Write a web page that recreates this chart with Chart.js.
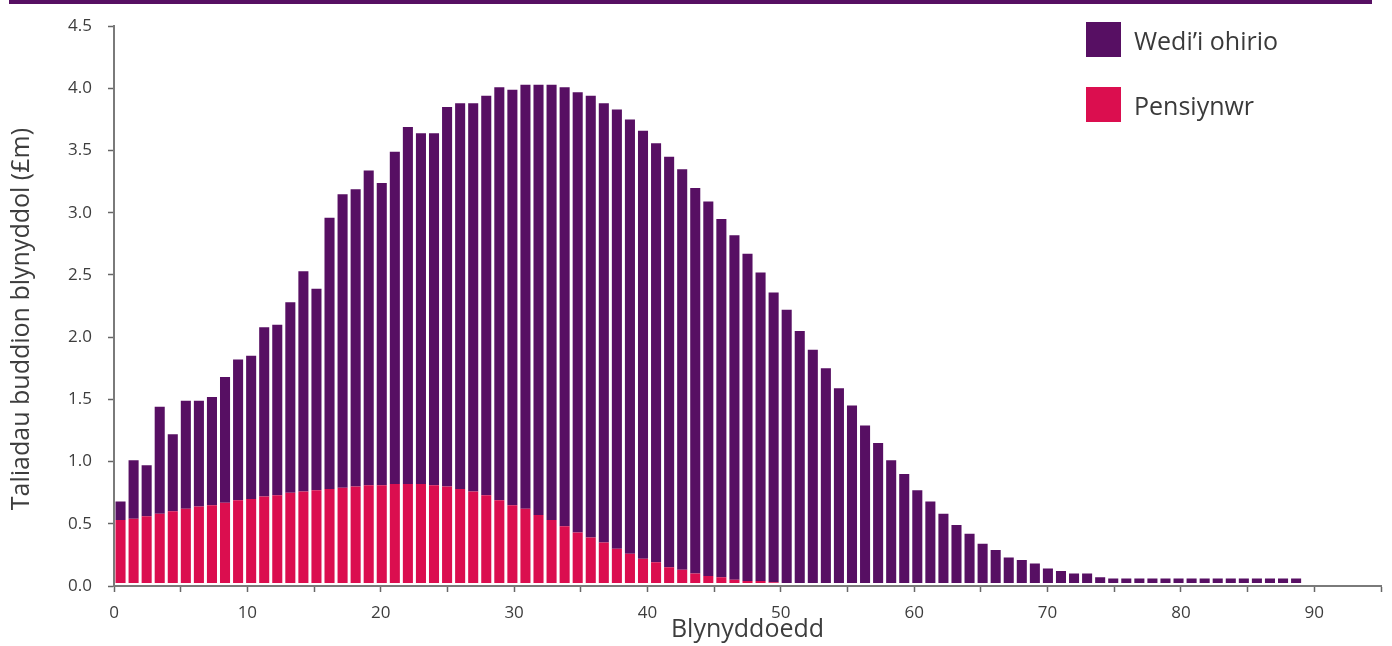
<!DOCTYPE html>
<html lang="cy">
<head>
<meta charset="utf-8">
<title>Taliadau buddion blynyddol</title>
<script src="https://cdn.jsdelivr.net/npm/chart.js@4/dist/chart.umd.min.js"></script>
<style>
    html, body { margin: 0; padding: 0; background: #fff; }
    #wrap { position: relative; width: 1392px; height: 646px; overflow: hidden; }
    #topBand { position: absolute; left: 9px; top: 0; width: 1363px; height: 4px; background: #570F63; }
    .legend-item { position: absolute; left: 1086px; height: 35px; display: flex; align-items: center; }
    .legend-item .swatch { width: 35px; height: 35px; margin-right: 13px; }
    .legend-item span { font-family: "Open Sans", sans-serif; font-size: 25px; color: #3a3a3a; white-space: nowrap; }
</style>
</head>
<body>
<div id="wrap">
    <canvas id="benefitsChart" width="1392" height="646"></canvas>
    <div id="topBand"></div>
    <div class="legend-item" style="top: 22px;"><div class="swatch" style="background:#570F63"></div><span>Wedi’i ohirio</span></div>
    <div class="legend-item" style="top: 87px;"><div class="swatch" style="background:#DB0E4F"></div><span>Pensiynwr</span></div>
</div>
<script>
const PURPLE = '#570F63';
const PINK = '#DB0E4F';

// bar slots along the year axis (only the first 91 carry values)
const years = [0, 1, 2, 3, 4, 5, 6, 7, 8, 9, 10, 11, 12, 13, 14, 15, 16, 17, 18, 19,
    20, 21, 22, 23, 24, 25, 26, 27, 28, 29, 30, 31, 32, 33, 34, 35, 36, 37, 38, 39,
    40, 41, 42, 43, 44, 45, 46, 47, 48, 49, 50, 51, 52, 53, 54, 55, 56, 57, 58, 59,
    60, 61, 62, 63, 64, 65, 66, 67, 68, 69, 70, 71, 72, 73, 74, 75, 76, 77, 78, 79,
    80, 81, 82, 83, 84, 85, 86, 87, 88, 89, 90, 91, 92, 93, 94, 95, 96];

// Pensiynwr (£m)
const pensionerValues = [
    0.53, 0.54, 0.56, 0.58, 0.60, 0.62, 0.64, 0.65, 0.67, 0.69,
    0.70, 0.72, 0.73, 0.75, 0.76, 0.77, 0.78, 0.79, 0.80, 0.81,
    0.81, 0.82, 0.82, 0.82, 0.81, 0.80, 0.78, 0.76, 0.73, 0.69,
    0.65, 0.62, 0.57, 0.53, 0.48, 0.43, 0.39, 0.35, 0.30, 0.26,
    0.22, 0.19, 0.15, 0.13, 0.10, 0.08, 0.07, 0.05, 0.04, 0.04,
    0.03, 0.02, 0, 0, 0, 0, 0, 0, 0, 0,
    0, 0, 0, 0, 0, 0, 0, 0, 0, 0,
    0, 0, 0, 0, 0, 0, 0, 0, 0, 0,
    0, 0, 0, 0, 0, 0, 0, 0, 0, 0,
    0
];

// Wedi'i ohirio (£m)
const deferredValues = [
    0.15, 0.47, 0.41, 0.86, 0.62, 0.87, 0.85, 0.87, 1.01, 1.13,
    1.15, 1.36, 1.37, 1.53, 1.77, 1.62, 2.18, 2.36, 2.39, 2.53,
    2.43, 2.67, 2.87, 2.82, 2.83, 3.05, 3.10, 3.12, 3.21, 3.32,
    3.34, 3.41, 3.46, 3.50, 3.53, 3.54, 3.55, 3.53, 3.53, 3.49,
    3.44, 3.37, 3.30, 3.22, 3.10, 3.01, 2.88, 2.77, 2.63, 2.48,
    2.33, 2.20, 2.05, 1.90, 1.75, 1.59, 1.45, 1.29, 1.15, 1.01,
    0.90, 0.77, 0.68, 0.58, 0.49, 0.42, 0.34, 0.29, 0.23, 0.21,
    0.18, 0.14, 0.12, 0.10, 0.10, 0.07, 0.06, 0.06, 0.06, 0.06,
    0.06, 0.06, 0.06, 0.06, 0.06, 0.06, 0.06, 0.06, 0.06, 0.06,
    0.06
];

const xMin = 0, xMax = 95, xStep = 5, xLabelEvery = 10;
const yMin = 0, yMax = 4.5, yStep = 0.5;

const TEXT = '#3d3d3d';
const AXIS = '#7a7a7a';

// leave a thin white gap between the bars and the x axis line
const barClip = { left: 0, top: 0, right: 0, bottom: -3 };

const ctx = document.getElementById('benefitsChart').getContext('2d');
new Chart(ctx, {
    type: 'bar',
    data: {
        labels: years,
        datasets: [{
            label: 'Pensiynwr',
            data: pensionerValues,
            backgroundColor: PINK,
            xAxisID: 'cat',
            yAxisID: 'y',
            clip: barClip
        }, {
            label: 'Wedi’i ohirio',
            data: deferredValues,
            backgroundColor: PURPLE,
            xAxisID: 'cat',
            yAxisID: 'y',
            clip: barClip
        }]
    },
    options: {
        responsive: false,
        devicePixelRatio: 1,
        animation: false,
        categoryPercentage: 1,
        barPercentage: 0.77,
        layout: { padding: { top: 23, right: 11, left: 0, bottom: 0 } },
        plugins: {
            legend: { display: false },
            tooltip: { enabled: false }
        },
        scales: {
            cat: {
                type: 'category',
                axis: 'x',
                position: 'bottom',
                labels: years,
                offset: true,
                stacked: true,
                display: false
            },
            x: {
                type: 'linear',
                position: 'bottom',
                min: xMin,
                max: xMax,
                offset: false,
                afterFit: function(scale) { scale.height = 60; },
                border: { display: true, color: AXIS, width: 2 },
                grid: { offset: false, drawOnChartArea: false, drawTicks: true, tickLength: 6, tickColor: '#666', tickWidth: 1.5 },
                ticks: {
                    stepSize: xStep,
                    autoSkip: false,
                    maxRotation: 0,
                    padding: 11,
                    color: TEXT,
                    font: { family: 'Open Sans', size: 17 },
                    callback: function(value) {
                        return value % xLabelEvery === 0 ? String(value) : '';
                    }
                },
                title: {
                    display: true,
                    text: 'Blynyddoedd',
                    color: TEXT,
                    font: { family: 'Open Sans', size: 25 },
                    padding: { top: 0, bottom: 1 }
                }
            },
            y: {
                stacked: true,
                min: yMin,
                max: yMax,
                afterFit: function(scale) { scale.width = 114; },
                border: { display: true, color: AXIS, width: 2 },
                grid: { drawOnChartArea: false, drawTicks: true, tickLength: 6, tickColor: '#666', tickWidth: 1.5 },
                ticks: {
                    stepSize: yStep,
                    padding: 16,
                    color: TEXT,
                    font: { family: 'Open Sans', size: 17 },
                    callback: function(value) {
                        return Number(value).toFixed(1);
                    }
                },
                title: {
                    display: true,
                    // trailing spaces nudge the rotated title a little lower on the axis
                    text: 'Taliadau buddion blynyddol (£m)    ',
                    color: TEXT,
                    font: { family: 'Open Sans', size: 25 },
                    padding: { top: 7, bottom: 0 }
                }
            }
        }
    }
});
</script>
</body>
</html>
